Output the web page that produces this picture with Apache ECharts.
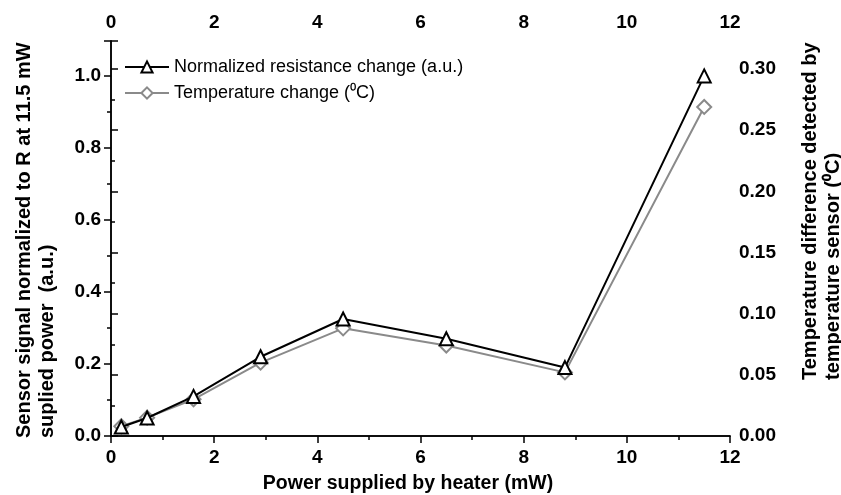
<!DOCTYPE html>
<html><head><meta charset="utf-8">
<script src="https://cdn.jsdelivr.net/npm/echarts@6/dist/echarts.min.js"></script>
<style>html,body{margin:0;padding:0;background:#fff}#c{width:841px;height:495px}</style>
</head><body><div id="c"></div>
<script>
var power = [0.2, 0.7, 1.6, 2.9, 4.5, 6.5, 8.8, 11.5];
var resistance = [0.025, 0.05, 0.11, 0.22, 0.325, 0.27, 0.19, 1.0];
var temperature = [0.008, 0.015, 0.03, 0.06, 0.088, 0.074, 0.052, 0.269];
var seriesNames = ['Normalized resistance change (a.u.)', 'Temperature change (\u2070C)'];
var xTitle = 'Power supplied by heater (mW)';
var yLeftTitle = 'Sensor signal normalized to R at 11.5 mW\nsuplied power  (a.u.)';
var yRightTitle = 'Temperature difference detected by\ntemperature sensor (\u2070C)';

var FONT = 'Liberation Sans, Arial, sans-serif';
var lbl = {fontFamily: FONT, fontWeight: 'bold', fontSize: 19, color: '#000'};
var titleStyle = {fontFamily: FONT, fontWeight: 'bold', fontSize: 20, fill: '#000', lineHeight: 23};
var axLine = {show: true, lineStyle: {color: '#000', width: 1.5}};
var tickStyle = {color: '#000', width: 1.5};

var chart = echarts.init(document.getElementById('c'));
chart.setOption({
  backgroundColor: '#fff',
  animation: false,
  grid: {left: 111, right: 111, top: 41, bottom: 59, containLabel: false, outerBoundsMode: 'none'},
  legend: {
    left: 119, top: 53, orient: 'vertical', itemWidth: 44, itemHeight: 14, itemGap: 8,
    textStyle: {fontFamily: FONT, fontSize: 18, color: '#000'},
    data: seriesNames
  },
  graphic: [{
    type: 'text', x: 408, y: 484,
    style: Object.assign({text: xTitle, align: 'center', verticalAlign: 'middle'}, titleStyle, {fontSize: 19.5})
  }, {
    type: 'text', x: 36, y: 438, rotation: Math.PI / 2,
    style: Object.assign({text: yLeftTitle, align: 'left', verticalAlign: 'middle'}, titleStyle)
  }, {
    type: 'text', x: 822, y: 380, rotation: Math.PI / 2,
    style: Object.assign({text: yRightTitle, align: 'left', verticalAlign: 'middle'}, titleStyle)
  }],
  xAxis: [{
    type: 'value', position: 'bottom', min: 0, max: 12, interval: 2,
    axisLine: axLine, axisTick: {show: true, inside: false, length: 7, lineStyle: tickStyle},
    minorTick: {show: true, splitNumber: 2, length: 4, lineStyle: tickStyle},
    axisLabel: Object.assign({margin: 12}, lbl),
    splitLine: {show: false}
  }, {
    type: 'value', position: 'top', min: 0, max: 12, interval: 2,
    axisLine: axLine, axisTick: {show: true, inside: true, length: 7, lineStyle: tickStyle},
    minorTick: {show: true, splitNumber: 2, length: 4, lineStyle: tickStyle},
    axisLabel: Object.assign({margin: 9}, lbl),
    splitLine: {show: false}
  }],
  yAxis: [{
    type: 'value', position: 'left', min: 0, max: 1.097, interval: 0.2,
    axisLine: axLine, axisTick: {show: true, inside: false, length: 7, lineStyle: tickStyle},
    minorTick: {show: true, splitNumber: 2, length: 4, lineStyle: tickStyle},
    axisLabel: Object.assign({margin: 10, formatter: function (v) {
      var r = Math.round(v / 0.2) * 0.2; return Math.abs(v - r) < 1e-6 ? v.toFixed(1) : '';
    }}, lbl),
    splitLine: {show: false}
  }, {
    type: 'value', position: 'right', min: 0, max: 0.3229, interval: 0.05,
    axisLine: axLine, axisTick: {show: true, inside: false, length: 7, lineStyle: tickStyle},
    minorTick: {show: true, splitNumber: 2, length: 4, lineStyle: tickStyle},
    axisLabel: Object.assign({margin: 9, formatter: function (v) {
      var r = Math.round(v / 0.05) * 0.05; return Math.abs(v - r) < 1e-6 ? v.toFixed(2) : '';
    }}, lbl),
    splitLine: {show: false}
  }],
  series: [{
    name: seriesNames[0], type: 'line', xAxisIndex: 0, yAxisIndex: 0,
    data: power.map(function (p, i) { return [p, resistance[i]]; }),
    symbol: 'triangle', symbolSize: 13, showAllSymbol: true,
    lineStyle: {color: '#000', width: 2},
    itemStyle: {color: '#fff', borderColor: '#000', borderWidth: 2},
    z: 3
  }, {
    name: seriesNames[1], type: 'line', xAxisIndex: 0, yAxisIndex: 1,
    data: power.map(function (p, i) { return [p, temperature[i]]; }),
    symbol: 'diamond', symbolSize: 14, showAllSymbol: true,
    lineStyle: {color: '#8a8a8a', width: 2},
    itemStyle: {color: '#fff', borderColor: '#8a8a8a', borderWidth: 2},
    z: 2
  }]
});
</script></body></html>
